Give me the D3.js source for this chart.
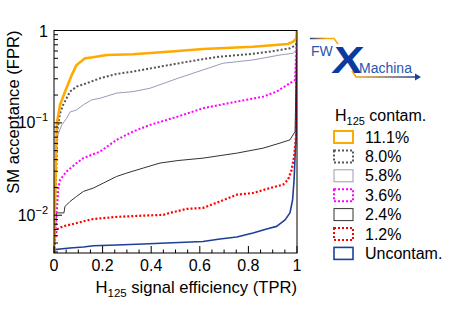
<!DOCTYPE html>
<html>
<head>
<meta charset="utf-8">
<script src="https://cdnjs.cloudflare.com/ajax/libs/d3/7.8.5/d3.min.js"></script>
<style>
	body { margin: 0; background: #fff; }
	svg { display: block; font-family: "Liberation Sans", Arial, sans-serif; }
</style>
</head>
<body>
<svg id="plot" width="457" height="309"></svg>
<script>
	// ROC curves, [signal efficiency, SM acceptance]
	var roc_111 = [[0,0.0039],[0.008,0.04],[0.012,0.1],[0.025,0.157],[0.045,0.216],[0.073,0.33],[0.093,0.424],[0.128,0.50],[0.16,0.513],[0.217,0.543],[0.325,0.553],[0.51,0.60],[0.613,0.63],[0.819,0.668],[0.963,0.714],[0.984,0.757],[0.996,0.809],[1,1]];
	var roc_080 = [[0,0.0039],[0.008,0.024],[0.014,0.084],[0.025,0.127],[0.038,0.157],[0.066,0.218],[0.093,0.247],[0.135,0.269],[0.19,0.304],[0.258,0.339],[0.325,0.359],[0.423,0.40],[0.51,0.44],[0.613,0.49],[0.68,0.52],[0.752,0.54],[0.82,0.56],[0.889,0.59],[0.971,0.642],[0.996,0.697],[1,1]];
	var roc_058 = [[0,0.0039],[0.006,0.0242],[0.011,0.069],[0.032,0.095],[0.052,0.112],[0.066,0.131],[0.093,0.138],[0.121,0.157],[0.155,0.177],[0.19,0.185],[0.258,0.21],[0.325,0.218],[0.395,0.237],[0.51,0.304],[0.613,0.374],[0.695,0.442],[0.819,0.48],[0.93,0.543],[0.984,0.567],[0.996,0.615],[1,1]];
	var roc_036 = [[0,0.0039],[0.008,0.0079],[0.011,0.0106],[0.018,0.0197],[0.025,0.0242],[0.052,0.0298],[0.093,0.0367],[0.121,0.0415],[0.19,0.049],[0.258,0.0655],[0.325,0.0805],[0.395,0.095],[0.51,0.117],[0.613,0.144],[0.752,0.17],[0.86,0.192],[0.916,0.218],[0.971,0.269],[0.992,0.292],[1,1]];
	var roc_024 = [[0,0.0039],[0.006,0.007],[0.01,0.0106],[0.041,0.0106],[0.045,0.0124],[0.066,0.0141],[0.093,0.016],[0.121,0.0181],[0.162,0.0197],[0.203,0.0223],[0.258,0.0263],[0.299,0.0286],[0.367,0.0324],[0.436,0.0367],[0.51,0.0391],[0.613,0.0415],[0.752,0.047],[0.86,0.0532],[0.93,0.0604],[0.971,0.0655],[0.992,0.0805],[1,1]];
	var roc_012 = [[0,0.0039],[0.004,0.0054],[0.011,0.007],[0.038,0.0076],[0.066,0.0079],[0.107,0.0084],[0.135,0.0088],[0.162,0.0091],[0.258,0.0096],[0.367,0.0099],[0.45,0.0101],[0.477,0.0106],[0.546,0.0117],[0.613,0.012],[0.683,0.0141],[0.752,0.0167],[0.819,0.0174],[0.889,0.0197],[0.942,0.0214],[0.963,0.0242],[0.978,0.031],[0.988,0.0432],[0.996,0.0711],[1,1]];
	var roc_000 = [[0,0.00403],[0.004,0.00424],[0.025,0.00431],[0.066,0.00442],[0.121,0.00453],[0.162,0.00468],[0.258,0.00476],[0.367,0.00488],[0.464,0.005],[0.613,0.0052],[0.683,0.00553],[0.752,0.00581],[0.819,0.00642],[0.875,0.0071],[0.916,0.00757],[0.951,0.0089],[0.971,0.0106],[0.982,0.0147],[0.988,0.0242],[0.992,0.0432],[0.996,0.0711],[1,1]];

	var labels = ["11.1%", "8.0%", "5.8%", "3.6%", "2.4%", "1.2%", "Uncontam."];
	var series = [roc_111, roc_080, roc_058, roc_036, roc_024, roc_012, roc_000];
	var colors = ["#ffaa00", "#555555", "#9a9ab8", "#ff00ff", "#333333", "#ff0000", "#1c3f9a"];
	var widths = [2.6, 2, 1, 2, 1, 2.2, 1.6];
	var dashes = [null, "2,2", null, "2,2", null, "2,2", null];

	var xTicks = [0, 0.2, 0.4, 0.6, 0.8, 1];
	var yTicks = [0.01, 0.1, 1];

	var svg = d3.select("#plot");
	var mL = 54, mR = 297, mT = 30.5, mB = 253;
	var fs = 16;

	var x = d3.scaleLinear().domain([0, 1]).range([mL, mR]);
	var y = d3.scaleLog().domain([0.0039, 1]).range([mB, mT]);

	svg.append("clipPath").attr("id", "clip")
		.append("rect").attr("x", mL).attr("y", mT)
		.attr("width", mR - mL).attr("height", mB - mT);

	var line = d3.line()
		.x(function(d){ return x(d[0]); })
		.y(function(d){ return y(d[1]); });

	// draw back to front so the orange one sits on top
	d3.range(series.length).reverse().forEach(function(i){
		svg.append("path")
			.attr("d", line(series[i]))
			.attr("clip-path", "url(#clip)")
			.attr("fill", "none")
			.attr("stroke", colors[i])
			.attr("stroke-width", widths[i])
			.attr("stroke-dasharray", dashes[i])
			.attr("stroke-linejoin", "round");
	});

	// frame
	svg.append("rect").attr("x", mL).attr("y", mT)
		.attr("width", mR - mL).attr("height", mB - mT)
		.attr("fill", "none").attr("stroke", "#000").attr("stroke-width", 1);

	// x axis: ticks point inward
	var xMinor = d3.range(0, 1.0001, 0.05);
	svg.selectAll(".xtick").data(xMinor).enter().append("line")
		.attr("x1", function(d){ return x(d); })
		.attr("x2", function(d){ return x(d); })
		.attr("y1", mB)
		.attr("y2", function(d, i){ return mB - (i % 4 === 0 ? 7 : 3.5); })
		.attr("stroke", "#000");
	svg.selectAll(".xlab").data(xTicks).enter().append("text")
		.attr("x", function(d){ return x(d); })
		.attr("y", 271)
		.attr("text-anchor", "middle")
		.attr("font-size", fs)
		.text(function(d){ return d3.format("")(d); });

	// y axis: log ticks
	var yMinor = [];
	[0.001, 0.01, 0.1].forEach(function(dec){
		for (var k = 1; k <= 9; k++) {
			var v = dec * k;
			if (v >= 0.0039 && v <= 1) yMinor.push(v);
		}
	});
	yMinor.push(1);
	svg.selectAll(".ytick").data(yMinor).enter().append("line")
		.attr("x1", mL)
		.attr("x2", function(d){ return mL + (yTicks.indexOf(d) >= 0 ? 8 : 4); })
		.attr("y1", function(d){ return y(d); })
		.attr("y2", function(d){ return y(d); })
		.attr("stroke", "#000");

	var ylab = svg.selectAll(".ylab").data(yTicks).enter().append("text")
		.attr("x", 48)
		.attr("y", function(d){ return d === 1 ? y(d) + 6.5 : y(d) + 5.5; })
		.attr("text-anchor", "end")
		.attr("font-size", fs);
	ylab.each(function(d){
		var t = d3.select(this);
		if (d === 1) { t.text("1"); return; }
		t.append("tspan").text("10");
		t.append("tspan").attr("dy", -7).attr("font-size", 11)
			.text("\u2212" + Math.round(-Math.log10(d)));
	});

	// axis titles
	var xt = svg.append("text").attr("x", mR).attr("y", 293)
		.attr("text-anchor", "end").attr("font-size", 16.6);
	xt.append("tspan").text("H");
	xt.append("tspan").attr("dy", 4).attr("font-size", 11.5).text("125");
	xt.append("tspan").attr("dy", -4).text(" signal efficiency (TPR)");

	svg.append("text")
		.attr("transform", "translate(19," + mT + ") rotate(-90)")
		.attr("text-anchor", "end").attr("font-size", 16.6)
		.text("SM acceptance (FPR)");

	// legend
	var lt = svg.append("text").attr("x", 335).attr("y", 121).attr("font-size", fs);
	lt.append("tspan").text("H");
	lt.append("tspan").attr("dy", 4).attr("font-size", 11).text("125");
	lt.append("tspan").attr("dy", -4).text(" contam.");

	var rowY = function(i){ return 137 + i * 19.4; };
	labels.forEach(function(lab, i){
		svg.append("rect")
			.attr("x", 334).attr("y", rowY(i) - 6)
			.attr("width", 19).attr("height", 12)
			.attr("fill", "none")
			.attr("stroke", colors[i])
			.attr("stroke-width", Math.min(widths[i], 2))
			.attr("stroke-dasharray", dashes[i]);
		svg.append("text")
			.attr("x", 365).attr("y", rowY(i) + 5.5)
			.attr("font-size", fs)
			.text(lab);
	});

	// FWXMachina logo
	var defs = svg.append("defs");
	var g1 = defs.append("linearGradient").attr("id", "gtop");
	g1.append("stop").attr("offset", "0%").attr("stop-color", "#1c3f9a");
	g1.append("stop").attr("offset", "60%").attr("stop-color", "#ffaa00");
	var g2 = defs.append("linearGradient").attr("id", "gbot");
	g2.append("stop").attr("offset", "0%").attr("stop-color", "#ffaa00");
	g2.append("stop").attr("offset", "100%").attr("stop-color", "#1c3f9a");

	svg.append("path").attr("d", "M310,38.5 L334,38.5 L338,44")
		.attr("fill", "none").attr("stroke", "url(#gtop)").attr("stroke-width", 1.6);
	svg.append("path").attr("d", "M352,71 L356,77 L417,77")
		.attr("fill", "none").attr("stroke", "url(#gbot)").attr("stroke-width", 1.6);
	svg.append("path").attr("d", "M415,73.5 L421,77 L415,80.5 Z").attr("fill", "#1c3f9a");
	svg.append("text").attr("x", 311).attr("y", 56).attr("font-size", 14)
		.attr("fill", "#2a55b0").text("FW");
	svg.append("text").attr("transform", "translate(331,72.5) scale(1.2,1) skewX(-6)")
		.attr("font-size", 38)
		.attr("font-weight", "bold").attr("fill", "#0c3a9c").text("X");
	svg.append("text").attr("x", 359).attr("y", 72.5).attr("font-size", 14)
		.attr("fill", "#2a55b0").text("Machina");
</script>
</body>
</html>
